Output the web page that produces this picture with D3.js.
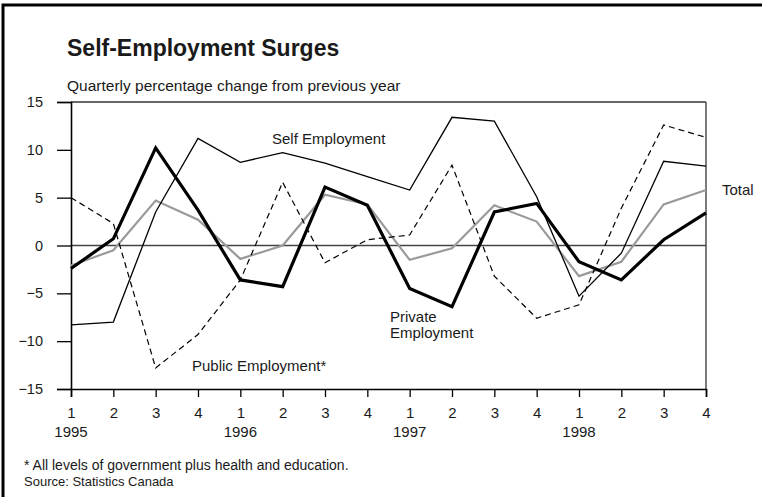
<!DOCTYPE html>
<html>
<head>
<meta charset="utf-8">
<script src="https://cdn.jsdelivr.net/npm/d3@7"></script>
<style>
  html, body { margin: 0; padding: 0; background: #fff; }
  svg { display: block; font-family: "Liberation Sans", Arial, Helvetica, sans-serif; }
</style>
</head>
<body>
<svg id="chart" width="762" height="497"></svg>
<script>
// Quarterly percentage change from previous year, 1995Q1 - 1998Q4
const quarters = ["1","2","3","4","1","2","3","4","1","2","3","4","1","2","3","4"];
const years = ["1995", "1996", "1997", "1998"];
const selfEmployment    = [-8.3, -8.0, 3.5, 11.2, 8.7, 9.7, 8.6, 7.2, 5.8, 13.4, 13.0, 5.1, -5.3, -0.8, 8.8, 8.3];
const privateEmployment = [-2.4, 0.7, 10.2, 3.7, -3.6, -4.3, 6.1, 4.2, -4.5, -6.4, 3.5, 4.4, -1.7, -3.6, 0.6, 3.4];
const totalEmployment   = [-2.1, -0.5, 4.7, 2.7, -1.4, 0.0, 5.3, 4.3, -1.5, -0.3, 4.2, 2.5, -3.2, -1.7, 4.3, 5.8];
const publicEmployment  = [5.0, 2.3, -12.8, -9.3, -3.6, 6.6, -1.8, 0.6, 1.1, 8.4, -3.2, -7.6, -6.2, 3.9, 12.6, 11.3];
const yTicks = [-15, -10, -5, 0, 5, 10, 15];

const svg = d3.select("#chart");
const plotLeft = 71, plotRight = 706, plotTop = 102, plotBottom = 389;
const ink = "#1a1a1a";

const x = d3.scaleLinear().domain([0, quarters.length - 1]).range([plotLeft, plotRight]);
const y = d3.scaleLinear().domain([-15, 15]).range([plotBottom, plotTop]);

// outer frame
svg.append("rect")
  .attr("x", 3).attr("y", 5).attr("width", 900).attr("height", 700)
  .attr("fill", "none").attr("stroke", "#000").attr("stroke-width", 3);

// title block
svg.append("text").attr("x", 67).attr("y", 56)
  .attr("font-size", 23).attr("font-weight", "bold").attr("fill", ink)
  .text("Self-Employment Surges");
svg.append("text").attr("x", 67).attr("y", 91)
  .attr("font-size", 15.5).attr("fill", ink)
  .text("Quarterly percentage change from previous year");

// plot frame
const g = svg.append("g");
g.append("line").attr("x1", plotLeft).attr("x2", plotRight).attr("y1", plotTop).attr("y2", plotTop)
  .attr("stroke", "#333").attr("stroke-width", 1.3);
g.append("line").attr("x1", plotRight).attr("x2", plotRight).attr("y1", plotTop).attr("y2", plotBottom)
  .attr("stroke", "#333").attr("stroke-width", 1.3);
g.append("line").attr("x1", plotLeft).attr("x2", plotRight).attr("y1", y(0)).attr("y2", y(0))
  .attr("stroke", "#444").attr("stroke-width", 1.3);

// y axis
const yAxis = g.append("g").attr("transform", `translate(${plotLeft},0)`)
  .call(d3.axisLeft(y).tickValues(yTicks).tickSize(14).tickPadding(14).tickFormat(d3.format("d")));
yAxis.select(".domain").attr("stroke", "#000").attr("stroke-width", 1.6);
yAxis.selectAll(".tick line").attr("stroke", "#000").attr("stroke-width", 1.3);
yAxis.selectAll(".tick text").attr("font-size", 14.5).attr("fill", ink)
  .attr("font-family", "Liberation Sans, Arial, sans-serif");

// x axis
const xAxis = g.append("g").attr("transform", `translate(0,${plotBottom})`)
  .call(d3.axisBottom(x).tickValues(d3.range(quarters.length)).tickSize(8).tickPadding(10)
    .tickFormat(i => quarters[i]));
xAxis.select(".domain").attr("stroke", "#000").attr("stroke-width", 1.6);
xAxis.selectAll(".tick line").attr("stroke", "#000").attr("stroke-width", 1.3);
xAxis.selectAll(".tick text").attr("font-size", 15).attr("fill", ink)
  .attr("font-family", "Liberation Sans, Arial, sans-serif");

// year labels under each first quarter
svg.append("g").selectAll("text").data(years).join("text")
  .attr("x", (d, i) => x(i * 4)).attr("y", 437)
  .attr("text-anchor", "middle").attr("font-size", 15).attr("fill", ink)
  .text(d => d);

// series
const line = d3.line().x((d, i) => x(i)).y(d => y(d));
const series = [
  { values: totalEmployment,   stroke: "#9a9a9a", width: 2.2, dash: null },
  { values: publicEmployment,  stroke: "#000",    width: 1.2, dash: "6,4" },
  { values: selfEmployment,    stroke: "#000",    width: 1.3, dash: null },
  { values: privateEmployment, stroke: "#000",    width: 3.2, dash: null }
];
g.selectAll("path.series").data(series).join("path")
  .attr("class", "series")
  .attr("d", d => line(d.values))
  .attr("fill", "none")
  .attr("stroke", d => d.stroke)
  .attr("stroke-width", d => d.width)
  .attr("stroke-dasharray", d => d.dash)
  .attr("stroke-linejoin", "miter");

// series labels
const labels = [
  { text: ["Self Employment"], x: 272, y: 143.5 },
  { text: ["Private", "Employment"], x: 390, y: 322 },
  { text: ["Public Employment*"], x: 192, y: 371 },
  { text: ["Total"], x: 722, y: 194.5 }
];
labels.forEach(l => {
  const t = svg.append("text").attr("x", l.x).attr("y", l.y)
    .attr("font-size", 15).attr("fill", ink);
  l.text.forEach((s, i) => t.append("tspan").attr("x", l.x).attr("dy", i ? 15.5 : 0).text(s));
});

// notes
svg.append("text").attr("x", 24).attr("y", 470)
  .attr("font-size", 14).attr("fill", ink)
  .text("* All levels of government plus health and education.");
svg.append("text").attr("x", 24).attr("y", 486)
  .attr("font-size", 13).attr("fill", ink)
  .text("Source: Statistics Canada");
</script>
</body>
</html>
